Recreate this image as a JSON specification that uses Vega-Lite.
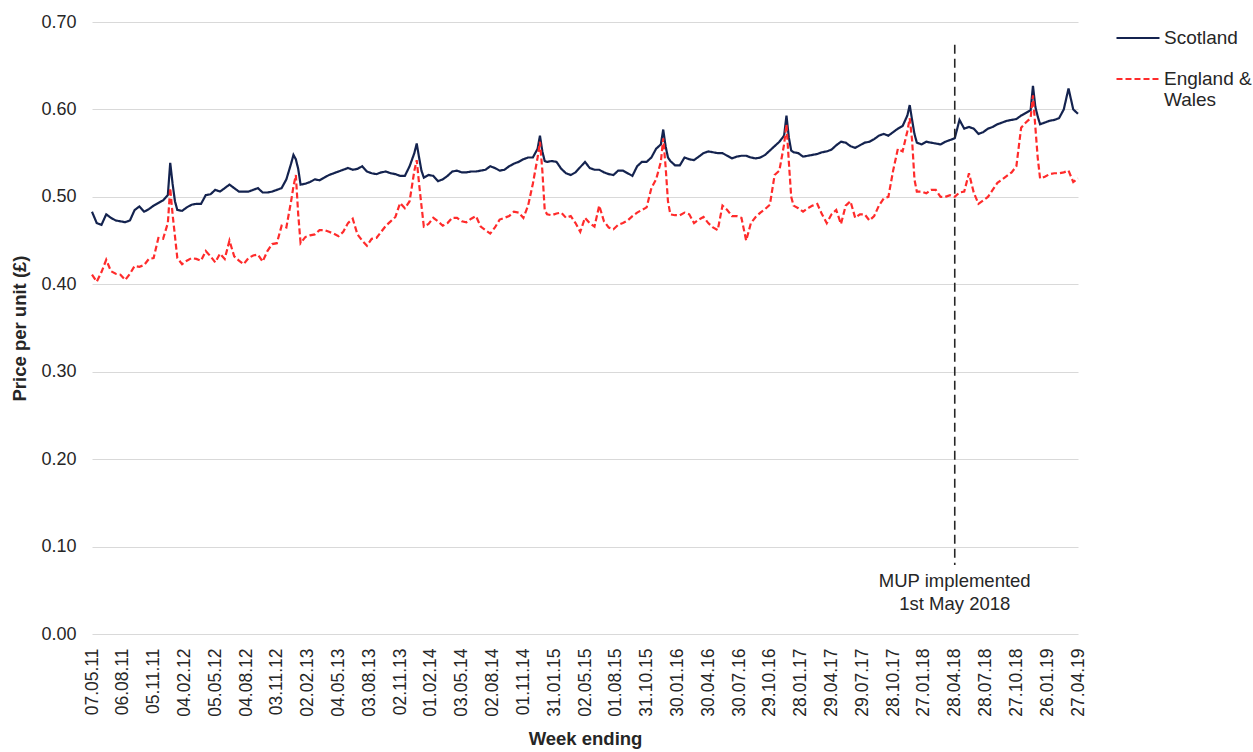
{
"$schema": "https://vega.github.io/schema/vega-lite/v6.json",
"width": 986, "height": 612,
"autosize": {"type": "none"},
"padding": {"left": 92, "top": 22, "right": 175, "bottom": 118},
"background": "white",
"config": {
  "font": "Liberation Sans",
  "view": {"stroke": null},
  "axis": {"labelFont": "Liberation Sans", "titleFont": "Liberation Sans", "labelColor": "#262626", "titleColor": "#262626"},
  "axisX": {"labelOverlap": false},
  "legend": {"labelFont": "Liberation Sans"}
},
"datasets": {
"prices": [
{"date":"2011-05-07","Scotland":0.483,"England & Wales":0.411},
{"date":"2011-05-21","Scotland":0.470,"England & Wales":0.403},
{"date":"2011-06-04","Scotland":0.468,"England & Wales":0.414},
{"date":"2011-06-18","Scotland":0.480,"England & Wales":0.428},
{"date":"2011-07-02","Scotland":0.476,"England & Wales":0.415},
{"date":"2011-07-16","Scotland":0.473,"England & Wales":0.412},
{"date":"2011-07-30","Scotland":0.472,"England & Wales":0.411},
{"date":"2011-08-13","Scotland":0.471,"England & Wales":0.405},
{"date":"2011-08-27","Scotland":0.473,"England & Wales":0.412},
{"date":"2011-09-10","Scotland":0.485,"England & Wales":0.421},
{"date":"2011-09-24","Scotland":0.489,"England & Wales":0.420},
{"date":"2011-10-08","Scotland":0.483,"England & Wales":0.422},
{"date":"2011-10-22","Scotland":0.486,"England & Wales":0.429},
{"date":"2011-11-05","Scotland":0.490,"England & Wales":0.430},
{"date":"2011-11-19","Scotland":0.493,"England & Wales":0.453},
{"date":"2011-12-03","Scotland":0.496,"England & Wales":0.452},
{"date":"2011-12-17","Scotland":0.502,"England & Wales":0.470},
{"date":"2011-12-24","Scotland":0.539,"England & Wales":0.510},
{"date":"2011-12-31","Scotland":0.515,"England & Wales":0.480},
{"date":"2012-01-07","Scotland":0.495,"England & Wales":0.455},
{"date":"2012-01-14","Scotland":0.485,"England & Wales":0.430},
{"date":"2012-01-28","Scotland":0.484,"England & Wales":0.423},
{"date":"2012-02-11","Scotland":0.488,"England & Wales":0.427},
{"date":"2012-02-25","Scotland":0.491,"England & Wales":0.430},
{"date":"2012-03-10","Scotland":0.492,"England & Wales":0.429},
{"date":"2012-03-24","Scotland":0.492,"England & Wales":0.427},
{"date":"2012-04-07","Scotland":0.502,"England & Wales":0.438},
{"date":"2012-04-21","Scotland":0.503,"England & Wales":0.432},
{"date":"2012-05-05","Scotland":0.508,"England & Wales":0.425},
{"date":"2012-05-19","Scotland":0.506,"England & Wales":0.435},
{"date":"2012-06-02","Scotland":0.510,"England & Wales":0.429},
{"date":"2012-06-16","Scotland":0.514,"England & Wales":0.450},
{"date":"2012-06-30","Scotland":0.510,"England & Wales":0.432},
{"date":"2012-07-14","Scotland":0.506,"England & Wales":0.427},
{"date":"2012-07-28","Scotland":0.506,"England & Wales":0.423},
{"date":"2012-08-11","Scotland":0.506,"England & Wales":0.430},
{"date":"2012-08-25","Scotland":0.508,"England & Wales":0.433},
{"date":"2012-09-08","Scotland":0.510,"England & Wales":0.434},
{"date":"2012-09-22","Scotland":0.505,"England & Wales":0.426},
{"date":"2012-10-06","Scotland":0.505,"England & Wales":0.438},
{"date":"2012-10-20","Scotland":0.506,"England & Wales":0.446},
{"date":"2012-11-03","Scotland":0.508,"England & Wales":0.447},
{"date":"2012-11-17","Scotland":0.510,"England & Wales":0.467},
{"date":"2012-12-01","Scotland":0.520,"England & Wales":0.465},
{"date":"2012-12-15","Scotland":0.538,"England & Wales":0.495},
{"date":"2012-12-22","Scotland":0.548,"England & Wales":0.512},
{"date":"2012-12-29","Scotland":0.543,"England & Wales":0.525},
{"date":"2013-01-05","Scotland":0.532,"England & Wales":0.480},
{"date":"2013-01-12","Scotland":0.514,"England & Wales":0.447},
{"date":"2013-01-26","Scotland":0.515,"England & Wales":0.454},
{"date":"2013-02-09","Scotland":0.517,"England & Wales":0.456},
{"date":"2013-02-23","Scotland":0.520,"England & Wales":0.457},
{"date":"2013-03-09","Scotland":0.519,"England & Wales":0.462},
{"date":"2013-03-23","Scotland":0.522,"England & Wales":0.462},
{"date":"2013-04-06","Scotland":0.525,"England & Wales":0.460},
{"date":"2013-04-20","Scotland":0.527,"England & Wales":0.458},
{"date":"2013-05-04","Scotland":0.529,"England & Wales":0.455},
{"date":"2013-05-18","Scotland":0.531,"England & Wales":0.460},
{"date":"2013-06-01","Scotland":0.533,"England & Wales":0.470},
{"date":"2013-06-15","Scotland":0.531,"England & Wales":0.475},
{"date":"2013-06-29","Scotland":0.532,"England & Wales":0.457},
{"date":"2013-07-13","Scotland":0.535,"England & Wales":0.450},
{"date":"2013-07-27","Scotland":0.529,"England & Wales":0.444},
{"date":"2013-08-10","Scotland":0.527,"England & Wales":0.452},
{"date":"2013-08-24","Scotland":0.526,"England & Wales":0.453},
{"date":"2013-09-07","Scotland":0.528,"England & Wales":0.460},
{"date":"2013-09-21","Scotland":0.529,"England & Wales":0.467},
{"date":"2013-10-05","Scotland":0.527,"England & Wales":0.472},
{"date":"2013-10-19","Scotland":0.526,"England & Wales":0.477},
{"date":"2013-11-02","Scotland":0.524,"England & Wales":0.493},
{"date":"2013-11-16","Scotland":0.524,"England & Wales":0.487},
{"date":"2013-11-30","Scotland":0.535,"England & Wales":0.495},
{"date":"2013-12-14","Scotland":0.550,"England & Wales":0.530},
{"date":"2013-12-21","Scotland":0.561,"England & Wales":0.542},
{"date":"2013-12-28","Scotland":0.545,"England & Wales":0.515},
{"date":"2014-01-04","Scotland":0.530,"England & Wales":0.490},
{"date":"2014-01-11","Scotland":0.522,"England & Wales":0.466},
{"date":"2014-01-25","Scotland":0.525,"England & Wales":0.469},
{"date":"2014-02-08","Scotland":0.524,"England & Wales":0.476},
{"date":"2014-02-22","Scotland":0.518,"England & Wales":0.472},
{"date":"2014-03-08","Scotland":0.520,"England & Wales":0.467},
{"date":"2014-03-22","Scotland":0.524,"England & Wales":0.470},
{"date":"2014-04-05","Scotland":0.529,"England & Wales":0.476},
{"date":"2014-04-19","Scotland":0.530,"England & Wales":0.476},
{"date":"2014-05-03","Scotland":0.528,"England & Wales":0.472},
{"date":"2014-05-17","Scotland":0.528,"England & Wales":0.471},
{"date":"2014-05-31","Scotland":0.529,"England & Wales":0.475},
{"date":"2014-06-14","Scotland":0.529,"England & Wales":0.478},
{"date":"2014-06-28","Scotland":0.530,"England & Wales":0.466},
{"date":"2014-07-12","Scotland":0.531,"England & Wales":0.462},
{"date":"2014-07-26","Scotland":0.535,"England & Wales":0.458},
{"date":"2014-08-09","Scotland":0.533,"England & Wales":0.465},
{"date":"2014-08-23","Scotland":0.530,"England & Wales":0.474},
{"date":"2014-09-06","Scotland":0.531,"England & Wales":0.476},
{"date":"2014-09-20","Scotland":0.535,"England & Wales":0.478},
{"date":"2014-10-04","Scotland":0.538,"England & Wales":0.483},
{"date":"2014-10-18","Scotland":0.540,"England & Wales":0.482},
{"date":"2014-11-01","Scotland":0.543,"England & Wales":0.476},
{"date":"2014-11-15","Scotland":0.545,"England & Wales":0.490},
{"date":"2014-11-29","Scotland":0.545,"England & Wales":0.515},
{"date":"2014-12-13","Scotland":0.555,"England & Wales":0.545},
{"date":"2014-12-20","Scotland":0.570,"England & Wales":0.563},
{"date":"2014-12-27","Scotland":0.552,"England & Wales":0.530},
{"date":"2015-01-03","Scotland":0.541,"England & Wales":0.485},
{"date":"2015-01-10","Scotland":0.540,"England & Wales":0.480},
{"date":"2015-01-24","Scotland":0.541,"England & Wales":0.479},
{"date":"2015-02-07","Scotland":0.540,"England & Wales":0.481},
{"date":"2015-02-21","Scotland":0.532,"England & Wales":0.482},
{"date":"2015-03-07","Scotland":0.527,"England & Wales":0.476},
{"date":"2015-03-21","Scotland":0.525,"England & Wales":0.478},
{"date":"2015-04-04","Scotland":0.528,"England & Wales":0.470},
{"date":"2015-04-18","Scotland":0.534,"England & Wales":0.460},
{"date":"2015-05-02","Scotland":0.540,"England & Wales":0.476},
{"date":"2015-05-16","Scotland":0.533,"England & Wales":0.470},
{"date":"2015-05-30","Scotland":0.531,"England & Wales":0.466},
{"date":"2015-06-13","Scotland":0.531,"England & Wales":0.490},
{"date":"2015-06-27","Scotland":0.528,"England & Wales":0.472},
{"date":"2015-07-11","Scotland":0.526,"England & Wales":0.465},
{"date":"2015-07-25","Scotland":0.525,"England & Wales":0.463},
{"date":"2015-08-08","Scotland":0.530,"England & Wales":0.468},
{"date":"2015-08-22","Scotland":0.530,"England & Wales":0.470},
{"date":"2015-09-05","Scotland":0.527,"England & Wales":0.473},
{"date":"2015-09-19","Scotland":0.524,"England & Wales":0.478},
{"date":"2015-10-03","Scotland":0.535,"England & Wales":0.482},
{"date":"2015-10-17","Scotland":0.540,"England & Wales":0.485},
{"date":"2015-10-31","Scotland":0.540,"England & Wales":0.488},
{"date":"2015-11-14","Scotland":0.545,"England & Wales":0.510},
{"date":"2015-11-28","Scotland":0.555,"England & Wales":0.520},
{"date":"2015-12-12","Scotland":0.560,"England & Wales":0.540},
{"date":"2015-12-19","Scotland":0.577,"England & Wales":0.567},
{"date":"2015-12-26","Scotland":0.558,"England & Wales":0.535},
{"date":"2016-01-02","Scotland":0.545,"England & Wales":0.495},
{"date":"2016-01-09","Scotland":0.541,"England & Wales":0.480},
{"date":"2016-01-23","Scotland":0.536,"England & Wales":0.479},
{"date":"2016-02-06","Scotland":0.536,"England & Wales":0.479},
{"date":"2016-02-20","Scotland":0.545,"England & Wales":0.482},
{"date":"2016-03-05","Scotland":0.543,"England & Wales":0.480},
{"date":"2016-03-19","Scotland":0.542,"England & Wales":0.470},
{"date":"2016-04-02","Scotland":0.546,"England & Wales":0.474},
{"date":"2016-04-16","Scotland":0.550,"England & Wales":0.477},
{"date":"2016-04-30","Scotland":0.552,"England & Wales":0.470},
{"date":"2016-05-14","Scotland":0.551,"England & Wales":0.465},
{"date":"2016-05-28","Scotland":0.550,"England & Wales":0.462},
{"date":"2016-06-11","Scotland":0.550,"England & Wales":0.490},
{"date":"2016-06-25","Scotland":0.547,"England & Wales":0.485},
{"date":"2016-07-09","Scotland":0.544,"England & Wales":0.478},
{"date":"2016-07-23","Scotland":0.546,"England & Wales":0.478},
{"date":"2016-08-06","Scotland":0.547,"England & Wales":0.476},
{"date":"2016-08-20","Scotland":0.547,"England & Wales":0.450},
{"date":"2016-09-03","Scotland":0.545,"England & Wales":0.470},
{"date":"2016-09-17","Scotland":0.544,"England & Wales":0.477},
{"date":"2016-10-01","Scotland":0.545,"England & Wales":0.482},
{"date":"2016-10-15","Scotland":0.548,"England & Wales":0.486},
{"date":"2016-10-29","Scotland":0.553,"England & Wales":0.491},
{"date":"2016-11-12","Scotland":0.558,"England & Wales":0.525},
{"date":"2016-11-26","Scotland":0.563,"England & Wales":0.530},
{"date":"2016-12-10","Scotland":0.570,"England & Wales":0.560},
{"date":"2016-12-17","Scotland":0.593,"England & Wales":0.583},
{"date":"2016-12-24","Scotland":0.568,"England & Wales":0.540},
{"date":"2016-12-31","Scotland":0.553,"England & Wales":0.500},
{"date":"2017-01-07","Scotland":0.551,"England & Wales":0.490},
{"date":"2017-01-21","Scotland":0.550,"England & Wales":0.487},
{"date":"2017-02-04","Scotland":0.546,"England & Wales":0.483},
{"date":"2017-02-18","Scotland":0.547,"England & Wales":0.487},
{"date":"2017-03-04","Scotland":0.548,"England & Wales":0.490},
{"date":"2017-03-18","Scotland":0.549,"England & Wales":0.492},
{"date":"2017-04-01","Scotland":0.551,"England & Wales":0.480},
{"date":"2017-04-15","Scotland":0.552,"England & Wales":0.470},
{"date":"2017-04-29","Scotland":0.554,"England & Wales":0.480},
{"date":"2017-05-13","Scotland":0.559,"England & Wales":0.485},
{"date":"2017-05-27","Scotland":0.563,"England & Wales":0.469},
{"date":"2017-06-10","Scotland":0.562,"England & Wales":0.490},
{"date":"2017-06-24","Scotland":0.558,"England & Wales":0.495},
{"date":"2017-07-08","Scotland":0.556,"England & Wales":0.476},
{"date":"2017-07-22","Scotland":0.559,"England & Wales":0.480},
{"date":"2017-08-05","Scotland":0.562,"England & Wales":0.480},
{"date":"2017-08-19","Scotland":0.563,"England & Wales":0.473},
{"date":"2017-09-02","Scotland":0.566,"England & Wales":0.478},
{"date":"2017-09-16","Scotland":0.570,"England & Wales":0.490},
{"date":"2017-09-30","Scotland":0.572,"England & Wales":0.498},
{"date":"2017-10-14","Scotland":0.570,"England & Wales":0.500},
{"date":"2017-10-28","Scotland":0.574,"England & Wales":0.530},
{"date":"2017-11-11","Scotland":0.578,"England & Wales":0.555},
{"date":"2017-11-25","Scotland":0.581,"England & Wales":0.552},
{"date":"2017-12-09","Scotland":0.593,"England & Wales":0.575},
{"date":"2017-12-16","Scotland":0.605,"England & Wales":0.590},
{"date":"2017-12-23","Scotland":0.588,"England & Wales":0.565},
{"date":"2017-12-30","Scotland":0.572,"England & Wales":0.520},
{"date":"2018-01-06","Scotland":0.562,"England & Wales":0.506},
{"date":"2018-01-20","Scotland":0.560,"England & Wales":0.506},
{"date":"2018-02-03","Scotland":0.563,"England & Wales":0.504},
{"date":"2018-02-17","Scotland":0.562,"England & Wales":0.508},
{"date":"2018-03-03","Scotland":0.561,"England & Wales":0.508},
{"date":"2018-03-17","Scotland":0.560,"England & Wales":0.500},
{"date":"2018-03-31","Scotland":0.563,"England & Wales":0.500},
{"date":"2018-04-14","Scotland":0.565,"England & Wales":0.502},
{"date":"2018-04-28","Scotland":0.567,"England & Wales":0.500},
{"date":"2018-05-12","Scotland":0.588,"England & Wales":0.505},
{"date":"2018-05-26","Scotland":0.578,"England & Wales":0.506},
{"date":"2018-06-09","Scotland":0.580,"England & Wales":0.527},
{"date":"2018-06-23","Scotland":0.578,"England & Wales":0.505},
{"date":"2018-07-07","Scotland":0.572,"England & Wales":0.492},
{"date":"2018-07-21","Scotland":0.574,"England & Wales":0.496},
{"date":"2018-08-04","Scotland":0.578,"England & Wales":0.500},
{"date":"2018-08-18","Scotland":0.580,"England & Wales":0.508},
{"date":"2018-09-01","Scotland":0.583,"England & Wales":0.516},
{"date":"2018-09-15","Scotland":0.585,"England & Wales":0.520},
{"date":"2018-09-29","Scotland":0.587,"England & Wales":0.524},
{"date":"2018-10-13","Scotland":0.588,"England & Wales":0.528},
{"date":"2018-10-27","Scotland":0.589,"England & Wales":0.535},
{"date":"2018-11-10","Scotland":0.593,"England & Wales":0.579},
{"date":"2018-11-24","Scotland":0.596,"England & Wales":0.585},
{"date":"2018-12-08","Scotland":0.599,"England & Wales":0.590},
{"date":"2018-12-15","Scotland":0.627,"England & Wales":0.616},
{"date":"2018-12-22","Scotland":0.603,"England & Wales":0.580},
{"date":"2018-12-29","Scotland":0.592,"England & Wales":0.545},
{"date":"2019-01-05","Scotland":0.583,"England & Wales":0.521},
{"date":"2019-01-19","Scotland":0.585,"England & Wales":0.523},
{"date":"2019-02-02","Scotland":0.587,"England & Wales":0.526},
{"date":"2019-02-16","Scotland":0.588,"England & Wales":0.527},
{"date":"2019-03-02","Scotland":0.590,"England & Wales":0.527},
{"date":"2019-03-16","Scotland":0.600,"England & Wales":0.528},
{"date":"2019-03-30","Scotland":0.624,"England & Wales":0.530},
{"date":"2019-04-13","Scotland":0.600,"England & Wales":0.517},
{"date":"2019-04-27","Scotland":0.595,"England & Wales":0.521}
],
"mup": [{"date": "2018-04-28", "label": "MUP implemented\n1st May 2018"}]
},
"encoding": {
  "x": {
    "field": "date", "type": "temporal",
    "scale": {"type": "utc", "domain": [{"year": 2011, "month": 5, "date": 7, "utc": true}, {"year": 2019, "month": 4, "date": 27, "utc": true}]},
    "axis": {
      "title": "Week ending",
      "values": [
        {"year":2011,"month":5,"date":7,"utc":true},{"year":2011,"month":8,"date":6,"utc":true},{"year":2011,"month":11,"date":5,"utc":true},
        {"year":2012,"month":2,"date":4,"utc":true},{"year":2012,"month":5,"date":5,"utc":true},{"year":2012,"month":8,"date":4,"utc":true},{"year":2012,"month":11,"date":3,"utc":true},
        {"year":2013,"month":2,"date":2,"utc":true},{"year":2013,"month":5,"date":4,"utc":true},{"year":2013,"month":8,"date":3,"utc":true},{"year":2013,"month":11,"date":2,"utc":true},
        {"year":2014,"month":2,"date":1,"utc":true},{"year":2014,"month":5,"date":3,"utc":true},{"year":2014,"month":8,"date":2,"utc":true},{"year":2014,"month":11,"date":1,"utc":true},
        {"year":2015,"month":1,"date":31,"utc":true},{"year":2015,"month":5,"date":2,"utc":true},{"year":2015,"month":8,"date":1,"utc":true},{"year":2015,"month":10,"date":31,"utc":true},
        {"year":2016,"month":1,"date":30,"utc":true},{"year":2016,"month":4,"date":30,"utc":true},{"year":2016,"month":7,"date":30,"utc":true},{"year":2016,"month":10,"date":29,"utc":true},
        {"year":2017,"month":1,"date":28,"utc":true},{"year":2017,"month":4,"date":29,"utc":true},{"year":2017,"month":7,"date":29,"utc":true},{"year":2017,"month":10,"date":28,"utc":true},
        {"year":2018,"month":1,"date":27,"utc":true},{"year":2018,"month":4,"date":28,"utc":true},{"year":2018,"month":7,"date":28,"utc":true},{"year":2018,"month":10,"date":27,"utc":true},
        {"year":2019,"month":1,"date":26,"utc":true},{"year":2019,"month":4,"date":27,"utc":true}
      ],
      "labelExpr": "utcFormat(datum.value, '%d.%m.%y')",
      "labelAngle": -90, "labelFontSize": 17.5, "labelPadding": 14,
      "labelOverlap": false, "labelSeparation": -40, "labelFlush": false, "labelBound": false,
      "grid": false, "ticks": false, "domain": false,
      "titleFontSize": 18.5, "titleFontWeight": "bold", "titlePadding": 13
    }
  }
},
"layer": [
{
  "data": {"name": "prices"},
  "transform": [{"fold": ["Scotland", "England & Wales"], "as": ["region", "price"]}],
  "mark": {"type": "line", "strokeWidth": 2.2},
  "encoding": {
    "y": {
      "field": "price", "type": "quantitative",
      "scale": {"domain": [0, 0.7], "nice": false},
      "axis": {
        "title": "Price per unit (£)",
        "values": [0, 0.1, 0.2, 0.3, 0.4, 0.5, 0.6, 0.7],
        "format": ".2f", "labelFontSize": 18, "labelPadding": 16,
        "grid": true, "gridColor": "#d9d9d9", "gridWidth": 1,
        "ticks": false, "domain": false,
        "titleFontSize": 18.5, "titleFontWeight": "bold", "titlePadding": 11
      }
    },
    "color": {
      "field": "region", "type": "nominal",
      "scale": {"domain": ["Scotland", "England & Wales"], "range": ["#14234f", "#ff2b2b"]},
      "legend": {
        "title": null, "orient": "none", "legendX": 1023, "legendY": -7,
        "labelFontSize": 19, "labelColor": "#262626", "labelOffset": 3, "labelLimit": 300,
        "symbolSize": 1850, "symbolStrokeWidth": 2.2, "rowPadding": 8,
        "labelExpr": "datum.label === 'England & Wales' ? ['England &', 'Wales'] : datum.label"
      }
    },
    "strokeDash": {
      "field": "region", "type": "nominal",
      "scale": {"domain": ["Scotland", "England & Wales"], "range": [[1, 0], [6, 3]]},
      "legend": {
        "title": null, "orient": "none", "legendX": 1023, "legendY": -7,
        "labelFontSize": 19, "labelColor": "#262626", "labelOffset": 3, "labelLimit": 300,
        "symbolSize": 1850, "symbolStrokeWidth": 2.2, "rowPadding": 8,
        "labelExpr": "datum.label === 'England & Wales' ? ['England &', 'Wales'] : datum.label"
      }
    }
  }
},
{
  "data": {"name": "mup"},
  "mark": {"type": "rule", "strokeDash": [9, 5], "strokeWidth": 1.6, "color": "#262626"},
  "encoding": {
    "y": {"datum": 0.674},
    "y2": {"datum": 0.079}
  }
},
{
  "data": {"name": "mup"},
  "mark": {"type": "text", "lineBreak": "\n", "baseline": "top", "align": "center", "fontSize": 18.5, "lineHeight": 23, "color": "#262626"},
  "encoding": {
    "y": {"datum": 0.0705},
    "text": {"field": "label"}
  }
}
]
}
